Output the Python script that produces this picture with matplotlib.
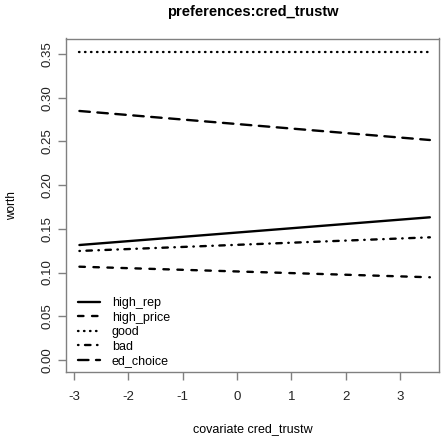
import matplotlib
matplotlib.use("Agg")
import matplotlib.pyplot as plt

plt.rcParams['font.family'] = ['Liberation Sans', 'DejaVu Sans']
plt.rcParams['lines.scale_dashes'] = False

# covariate grid endpoints and fitted worth per item
covariate = [-2.9, 3.55]
items = ["high_rep", "high_price", "good", "bad", "ed_choice"]
worth_high_rep = [0.1315, 0.1632]
worth_high_price = [0.1067, 0.0946]
worth_good = [0.3526, 0.3526]
worth_bad = [0.1247, 0.1403]
worth_ed_choice = [0.2848, 0.2516]

x_ticks = [-3, -2, -1, 0, 1, 2, 3]
y_ticks = [0.00, 0.05, 0.10, 0.15, 0.20, 0.25, 0.30, 0.35]

series = [worth_high_rep, worth_high_price, worth_good, worth_bad, worth_ed_choice]
dash_styles = [
    None,
    (0, (3.96, 6.12)),
    (0, (0.36, 3.96)),
    (0, (0.36, 4.68, 3.96, 4.68)),
    (0, (7.56, 5.4)),
]

fig = plt.figure(figsize=(4.44, 4.38), dpi=100)
ax = fig.add_axes([66 / 444, 1 - 371.7 / 438, (439 - 66) / 444, (371.7 - 38.5) / 438])

for name, vals, ds in zip(items, series, dash_styles):
    kw = dict(color="black", linewidth=1.7, solid_capstyle="round", dash_capstyle="round", label=name)
    if ds is None:
        ax.plot(covariate, vals, linestyle="-", **kw)
    else:
        ax.plot(covariate, vals, linestyle=ds, **kw)

ax.set_xlim(-3.147, 3.718)
ax.set_ylim(-0.0134, 0.3677)
ax.set_xticks(x_ticks)
ax.set_xticklabels([str(t) for t in x_ticks])
ax.set_yticks(y_ticks)
ax.set_yticklabels([f"{t:.2f}" for t in y_ticks], rotation=90, va="center")

frame_color = "#808080"
for s in ax.spines.values():
    s.set_color(frame_color)
    s.set_linewidth(1.0)
ax.tick_params(axis="both", direction="out", length=6, width=1.0, color=frame_color,
               labelsize=9.5, labelcolor="#222222")
ax.tick_params(axis="x", pad=8)
ax.tick_params(axis="y", pad=3)

ax.set_title("preferences:cred_trustw", fontsize=10.5, fontweight="bold", pad=16)
ax.set_xlabel("covariate cred_trustw", fontsize=9, labelpad=14)
ax.set_ylabel("worth", fontsize=8.5, labelpad=17)

ax.legend(loc="lower left", bbox_to_anchor=(0.012, -0.009), frameon=False, fontsize=9,
          handlelength=1.75, handletextpad=0.95, labelspacing=0.2, borderaxespad=0.2)

fig.savefig("out.png", dpi=100)
